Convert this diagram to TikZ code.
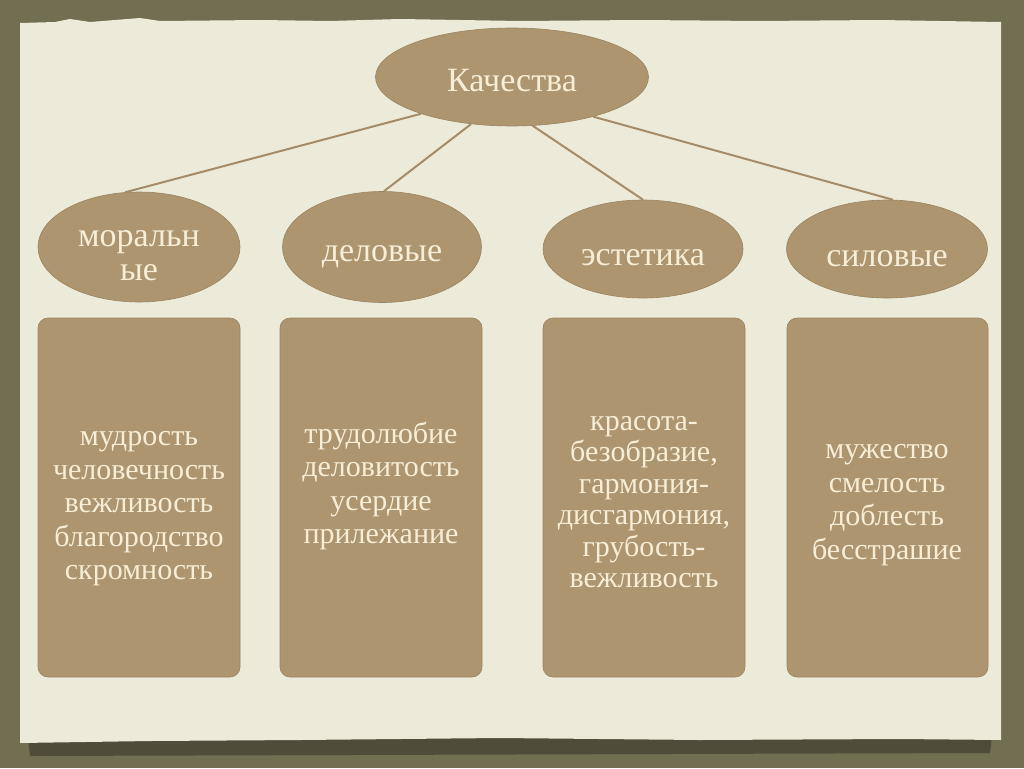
\documentclass[tikz,border=0pt]{standalone}
\usepackage{fontspec}
\setmainfont{Liberation Serif}
\usetikzlibrary{shapes.geometric}
\definecolor{bg}{HTML}{726E52}
\definecolor{paper}{HTML}{ECEAD8}
\definecolor{tan}{HTML}{AD9570}
\definecolor{tanedge}{HTML}{9A8460}
\definecolor{txt}{HTML}{F6EED6}
\definecolor{linkc}{HTML}{A48C68}
\definecolor{shadowc}{HTML}{4F4D3A}
\begin{document}
\begin{tikzpicture}[x=1pt,y=-1pt,
 oval/.style={ellipse, fill=tan, draw=tanedge, line width=0.6pt, inner sep=0pt},
 ovaltext/.style={text=txt, font=\fontsize{34}{34}\selectfont, align=center, inner sep=0pt},
 card/.style={rectangle, rounded corners=10pt, fill=tan, draw=tanedge, line width=0.6pt, inner sep=0pt, minimum width=202pt, minimum height=359pt},
 cardtext/.style={text=txt, font=\fontsize{30}{33.5}\selectfont, align=center, inner sep=0pt},
 linkline/.style={draw=linkc, line width=2pt}]
\useasboundingbox (0,0) rectangle (1024,768);
\fill[bg] (0,0) rectangle (1024,768);
\fill[shadowc] (28,738) -- (992,736) -- (990,753) -- (30,756) -- cycle;
\fill[paper] (20,23) -- (55,22) -- (70,19) -- (90,22) -- (140,18) -- (160,21) -- (260,20) -- (330,21) -- (400,19) -- (520,21) -- (640,20) -- (760,21) -- (880,20) -- (1001,22)
  -- (1001,740) -- (900,739) -- (700,740) -- (500,738) -- (300,740) -- (150,741) -- (20,743) -- cycle;

\node[oval, minimum width=273pt, minimum height=98pt] (top) at (512,77) {};
\node[oval, minimum width=202pt, minimum height=110pt] (mor) at (139,247) {};
\node[oval, minimum width=199pt, minimum height=111pt] (del) at (382,247) {};
\node[oval, minimum width=200pt, minimum height=98pt] (est) at (643,249) {};
\node[oval, minimum width=201pt, minimum height=98pt] (sil) at (887,249) {};

\node[ovaltext] (ltop) at (512,81) {Качества};
\node[ovaltext] (lmor) at (139,256) {моральн\\ые};
\node[ovaltext] (ldel) at (382,257) {деловые};
\node[ovaltext] (lest) at (643,258) {эстетика};
\node[ovaltext] (lsil) at (887,259) {силовые};

\draw[linkline] (top.202) -- (mor.104);
\draw[linkline] (top.229) -- (del.88);
\draw[linkline] (top.293) -- (est.90);
\draw[linkline] (top.334) -- (sil.83);

\node[card] (b1) at (139,497.5) {};
\node[card] (b2) at (381,497.5) {};
\node[card] (b3) at (644,497.5) {};
\node[card, minimum width=201pt] (b4) at (887.5,497.5) {};

\node[cardtext] (t1) at (139,509) {мудрость\\человечность\\вежливость\\благородство\\скромность};
\node[cardtext] (t2) at (381,486) {трудолюбие\\деловитость\\усердие\\прилежание};
\node[cardtext, font=\fontsize{30}{31.5}\selectfont] (t3) at (644,502) {красота-\\безобразие,\\гармония-\\дисгармония,\\грубость-\\вежливость};
\node[cardtext] (t4) at (887,505) {мужество\\смелость\\доблесть\\бесстрашие};
\end{tikzpicture}
\end{document}
